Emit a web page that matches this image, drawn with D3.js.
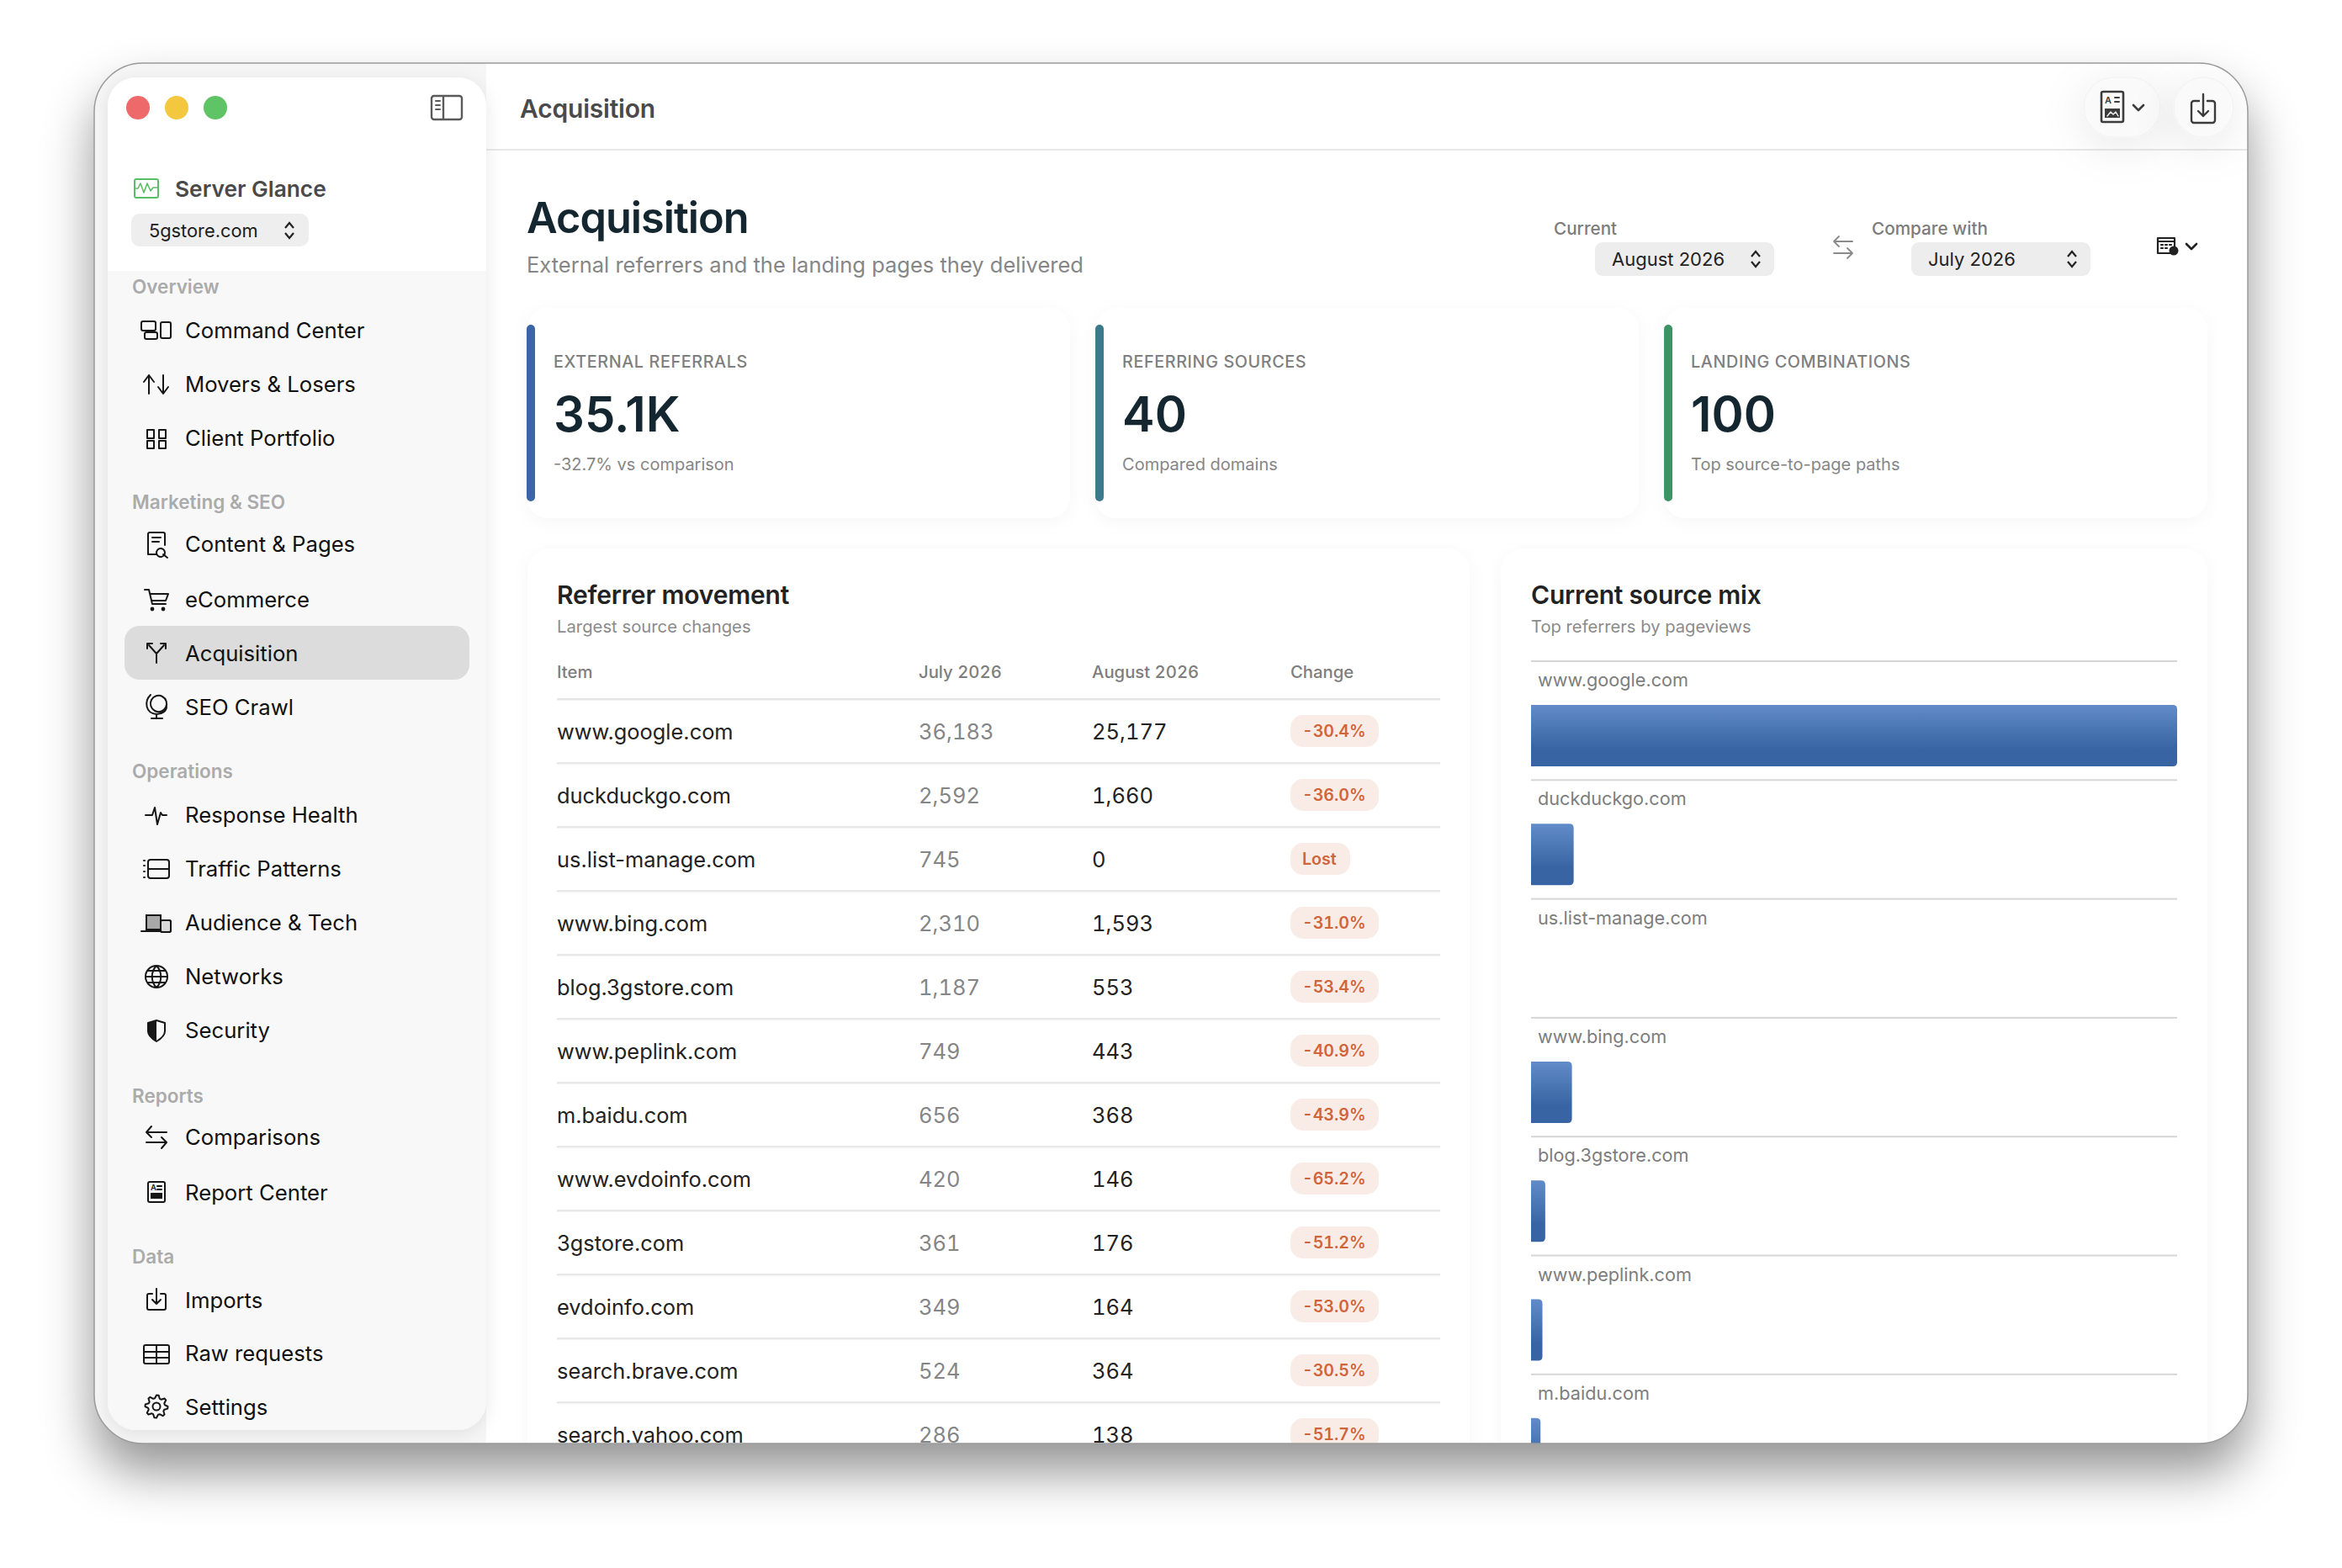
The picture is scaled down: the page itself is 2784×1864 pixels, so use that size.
<!DOCTYPE html>
<html>
<head>
<meta charset="utf-8">
<title>Acquisition</title>
<script src="https://cdn.jsdelivr.net/npm/d3@7"></script>
<style>
  html, body { margin: 0; padding: 0; background: #fff; }
  svg { display: block; }
  text { font-family: Inter, "Noto Sans", sans-serif; }
  .num { font-variant-numeric: tabular-nums; font-feature-settings: "tnum" 1; }
</style>
</head>
<body>
<div id="chart"></div>
<script>
// table data
const referrers = ['www.google.com', 'duckduckgo.com', 'us.list-manage.com', 'www.bing.com', 'blog.3gstore.com', 'www.peplink.com', 'm.baidu.com', 'www.evdoinfo.com', '3gstore.com', 'evdoinfo.com', 'search.brave.com', 'search.yahoo.com'];
const julyValues = [36183, 2592, 745, 2310, 1187, 749, 656, 420, 361, 349, 524, 286];
const augustValues = [25177, 1660, 0, 1593, 553, 443, 368, 146, 176, 164, 364, 138];
const changeLabels = ['-30.4%', '-36.0%', 'Lost', '-31.0%', '-53.4%', '-40.9%', '-43.9%', '-65.2%', '-51.2%', '-53.0%', '-30.5%', '-51.7%'];
const tableColumns = ['Item', 'July 2026', 'August 2026', 'Change'];

// source mix bars
const mixSources = ['www.google.com', 'duckduckgo.com', 'us.list-manage.com', 'www.bing.com', 'blog.3gstore.com', 'www.peplink.com', 'm.baidu.com'];
const mixValues = [25177, 1660, 0, 1593, 553, 443, 368];

// summary cards
const cardLabels = ['EXTERNAL REFERRALS', 'REFERRING SOURCES', 'LANDING COMBINATIONS'];
const cardValues = ['35.1K', '40', '100'];
const cardNotes = ['-32.7% vs comparison', 'Compared domains', 'Top source-to-page paths'];

// sidebar
const navHeadings = ['Overview', 'Marketing & SEO', 'Operations', 'Reports', 'Data'];
const navItems = ['Command Center', 'Movers & Losers', 'Client Portfolio', 'Content & Pages', 'eCommerce', 'Acquisition', 'SEO Crawl', 'Response Health', 'Traffic Patterns', 'Audience & Tech', 'Networks', 'Security', 'Comparisons', 'Report Center', 'Imports', 'Raw requests', 'Settings'];

const w = 2784, h = 1864;
const ink = '#14262f', grey = '#868686', dark = '#222';
const fmt = d3.format(',');

const svg = d3.select('#chart').append('svg').attr('width', w).attr('height', h);
const defs = svg.append('defs');

function shadow(id, dy, blur, alpha, pad) {
  let f = defs.append('filter').attr('id', id).
  attr('x', -pad + '%').attr('y', -pad + '%').attr('width', 100 + 2 * pad + '%').attr('height', 100 + 2 * pad + '%');
  f.append('feDropShadow').attr('dx', 0).attr('dy', dy).attr('stdDeviation', blur).
  attr('flood-color', '#000').attr('flood-opacity', alpha);
}
shadow('winShadow', 34, 30, 0.42, 20);
shadow('sideShadow', 4, 10, 0.09, 20);
shadow('cardShadow', 4, 10, 0.035, 20);
shadow('btnShadow', 10, 26, 0.09, 150);

let grad = defs.append('linearGradient').attr('id', 'barFill').
attr('x1', 0).attr('y1', 0).attr('x2', 0).attr('y2', 1);
grad.append('stop').attr('offset', '0%').attr('stop-color', '#618cc9');
grad.append('stop').attr('offset', '72%').attr('stop-color', '#3964a3');
grad.append('stop').attr('offset', '100%').attr('stop-color', '#3964a3');

defs.append('clipPath').attr('id', 'winClip').append('rect').
attr('x', 112).attr('y', 75).attr('width', 2560).attr('height', 1641).attr('rx', 58);

function label(g, x, y, str, size, weight, color, spacing) {
  return g.append('text').attr('x', x).attr('y', y).text(str).
  attr('font-size', size).attr('font-weight', weight).attr('fill', color).
  attr('letter-spacing', spacing || 0);
}

// window
svg.append('rect').attr('x', 112).attr('y', 75).attr('width', 2560).attr('height', 1641).attr('rx', 58).
attr('fill', '#fff').attr('filter', 'url(#winShadow)');

const win = svg.append('g').attr('clip-path', 'url(#winClip)');
win.append('rect').attr('x', 112).attr('y', 75).attr('width', 466).attr('height', 1641).attr('fill', '#f6f6f6');

// main area
const main = win.append('g');

label(main, 618, 140, 'Acquisition', 30, 600, '#4a4a4a', -0.2);
main.append('rect').attr('x', 578).attr('y', 177).attr('width', 2100).attr('height', 2).attr('fill', '#e8e8e8');

const topButtons = [[2477, 91], [2584, 71]];
main.selectAll('.topBtn').data(topButtons).enter().append('rect').
attr('class', 'topBtn').attr('x', d => d[0]).attr('y', 92).attr('width', d => d[1]).attr('height', 71).attr('rx', 35).
attr('fill', '#fafafa').attr('stroke', '#f3f3f3').attr('stroke-width', 1.5).attr('filter', 'url(#btnShadow)');

label(main, 626, 277, 'Acquisition', 50.5, 600, ink, -1);
label(main, 626, 324, 'External referrers and the landing pages they delivered', 25.5, 400, grey);

// period pickers
function stepper(g, cx, cy) {
  g.append('path').attr('d', `M${cx - 5} ${cy - 3}L${cx} ${cy - 9}L${cx + 5} ${cy - 3}M${cx - 5} ${cy + 3}L${cx} ${cy + 9}L${cx + 5} ${cy + 3}`).
  attr('fill', 'none').attr('stroke', '#222').attr('stroke-width', 2.2);
}
const pickers = [
  { head: 'Current', hx: 1847, bx: 1896, value: 'August 2026' },
  { head: 'Compare with', hx: 2225, bx: 2272, value: 'July 2026' }
];
pickers.forEach(p => {
  label(main, p.hx, 278.5, p.head, 20.7, 500, '#7c7c7c');
  main.append('rect').attr('x', p.bx).attr('y', 288).attr('width', 213).attr('height', 40).attr('rx', 9).attr('fill', '#ededed');
  label(main, p.bx + 20, 316, p.value, 22, 400, dark);
  stepper(main, p.bx + 191, 308);
});

function icon(g, cx, cy, d, color, sw) {
  return g.append('path').attr('transform', `translate(${cx},${cy})`).attr('d', d).
  attr('fill', 'none').attr('stroke', color).attr('stroke-width', sw || 2).
  attr('stroke-linecap', 'round').attr('stroke-linejoin', 'round');
}

// top right and picker icons
icon(main, 2191, 294, 'M11 -7H-11M-5 -13L-11 -7L-5 -1M-11 7H11M5 1L11 7L5 13', '#8a8a8a', 1.8);
icon(main, 2511, 127, 'M-11 -18H11A2 2 0 0 1 13 -16V16A2 2 0 0 1 11 18H-11A2 2 0 0 1 -13 16V-16A2 2 0 0 1 -11 -18Z', '#3c3c3c', 2.6);
label(main, 2502, 123, 'A', 11, 600, '#3c3c3c');
icon(main, 2511, 127, 'M3 -11H8M3 -6H8', '#3c3c3c', 2);
main.append('rect').attr('x', 2502).attr('y', 129).attr('width', 18).attr('height', 11).attr('fill', '#3c3c3c');
icon(main, 2511, 127, 'M-6 11L-2 6L1 9L4 6L7 11', '#fafafa', 1.4);
icon(main, 2542, 128, 'M-6 -3L0 3L6 -3', '#3c3c3c', 2.6);
icon(main, 2619, 130, 'M-5 -10H-11A3 3 0 0 0 -14 -7V13A3 3 0 0 0 -11 16H11A3 3 0 0 0 14 13V-7A3 3 0 0 0 11 -10H5M0 -18V8M-6 2L0 8L6 2', '#3c3c3c', 2.4);
icon(main, 2575, 292, 'M-10 -9H10V9H-10ZM-10 -5H10M-6 -1H-4M-1 -1H1M4 -1H6M-6 3H-4M-1 3H1', '#222', 2.2);
main.append('circle').attr('cx', 2584).attr('cy', 298).attr('r', 5.5).attr('fill', '#222');
icon(main, 2605, 293, 'M-6 -3L0 3L6 -3', '#222', 2.6);

// cards
const cardX = d3.scaleBand().domain(cardLabels).range([626, 2624]).paddingInner(0.0445);
const cardColors = ['#3b66a6', '#3b7a8a', '#3c9464'];
const cards = main.selectAll('.card').data(cardLabels).enter().append('g').attr('class', 'card').
attr('transform', d => `translate(${cardX(d)},366)`);
cards.append('rect').attr('width', cardX.bandwidth()).attr('height', 250).attr('rx', 26).attr('fill', '#fff').attr('filter', 'url(#cardShadow)');
cards.append('rect').attr('y', 20).attr('width', 10).attr('height', 210).attr('rx', 5).attr('fill', (d, i) => cardColors[i]);
cards.append('text').attr('x', 32).attr('y', 71).text(d => d).attr('font-size', 19.8).attr('font-weight', 500).attr('fill', '#7f7f7f').attr('letter-spacing', 0.6);
cards.append('text').attr('x', 32).attr('y', 147).text((d, i) => cardValues[i]).attr('font-size', 58).attr('font-weight', 600).attr('fill', ink);
cards.append('text').attr('x', 32).attr('y', 193).text((d, i) => cardNotes[i]).attr('font-size', 20).attr('fill', grey);

// panels
main.append('rect').attr('x', 627).attr('y', 652).attr('width', 1120).attr('height', 1200).attr('rx', 28).attr('fill', '#fff').attr('filter', 'url(#cardShadow)');
main.append('rect').attr('x', 1784).attr('y', 652).attr('width', 840).attr('height', 1200).attr('rx', 28).attr('fill', '#fff').attr('filter', 'url(#cardShadow)');

label(main, 662, 718, 'Referrer movement', 30, 600, dark, -0.2);
label(main, 662, 752, 'Largest source changes', 20.3, 400, '#8b8b8b');
label(main, 1820, 718, 'Current source mix', 30, 600, dark, -0.2);
label(main, 1820, 752, 'Top referrers by pageviews', 20.2, 400, '#8b8b8b');

// table
const colX = d3.scaleOrdinal().domain(tableColumns).range([662, 1092, 1298, 1534]);
main.selectAll('.colHead').data(tableColumns).enter().append('text').attr('class', 'colHead num').
attr('x', d => colX(d)).attr('y', 806).text(d => d).
attr('font-size', 20.3).attr('font-weight', 500).attr('fill', '#7e7e7e');

const rowY = d3.scaleBand().domain(referrers).range([831, 831 + 76 * referrers.length]);
main.append('rect').attr('x', 662).attr('y', 830).attr('width', 1050).attr('height', 2.5).attr('fill', '#e6e6e6');
const rows = main.selectAll('.row').data(referrers).enter().append('g').attr('class', 'row').
attr('transform', d => `translate(0,${rowY(d)})`);
rows.append('rect').attr('x', 662).attr('y', rowY.bandwidth() - 1).attr('width', 1050).attr('height', 2.5).attr('fill', '#e8e8e8');
rows.append('text').attr('x', colX('Item')).attr('y', 48).text(d => d).attr('font-size', 25.4).attr('fill', dark);
rows.append('text').attr('class', 'num').attr('x', colX('July 2026')).attr('y', 48).text((d, i) => fmt(julyValues[i])).attr('font-size', 25.5).attr('fill', '#858585');
rows.append('text').attr('class', 'num').attr('x', colX('August 2026')).attr('y', 48).text((d, i) => fmt(augustValues[i])).attr('font-size', 25.5).attr('fill', dark);
rows.append('rect').attr('x', colX('Change')).attr('y', 19).attr('height', 38).attr('rx', 15).
attr('width', (d, i) => changeLabels[i] === 'Lost' ? 71 : 105).attr('fill', '#f9ece6');
rows.append('text').attr('class', 'num').attr('x', colX('Change') + 14).attr('y', 45).text((d, i) => changeLabels[i]).
attr('font-size', 19.6).attr('font-weight', 600).attr('fill', '#d0643a');

// source mix
const mixY = d3.scaleBand().domain(mixSources).range([786, 786 + 141.3 * mixSources.length]);
const mixX = d3.scaleLinear().domain([0, d3.max(mixValues)]).range([0, 768]);
const mix = main.selectAll('.mix').data(mixSources).enter().append('g').attr('class', 'mix').
attr('transform', d => `translate(1820,${mixY(d)})`);
mix.append('rect').attr('x', 0).attr('y', -1).attr('width', 768).attr('height', 2).attr('fill', '#d6d6d6');
mix.append('text').attr('x', 8).attr('y', 30).text(d => d).attr('font-size', 21.7).attr('fill', '#7d7d7d');
mix.append('path').attr('fill', 'url(#barFill)').
attr('d', (d, i) => {
  let bw = mixX(mixValues[i]);
  if (bw === 0) return '';
  let r = Math.min(5, bw);
  return `M0 52H${bw - r}Q${bw} 52 ${bw} ${52 + r}V${125 - r}Q${bw} 125 ${bw - r} 125H0Z`;
});

// sidebar
const side = win.append('g');
side.append('rect').attr('x', 128).attr('y', 92).attr('width', 450).attr('height', 1608).attr('rx', 34).
attr('fill', '#f8f8f8').attr('filter', 'url(#sideShadow)');
side.append('path').attr('d', 'M128 322V126A34 34 0 0 1 162 92H544A34 34 0 0 1 578 126V322Z').attr('fill', '#fff');

const lights = ['#ee6a6a', '#f3c83f', '#5fc466'];
side.selectAll('.light').data(lights).enter().append('circle').attr('class', 'light').
attr('cx', (d, i) => 164 + i * 46).attr('cy', 128).attr('r', 14).attr('fill', d => d);

icon(side, 531, 128, 'M-15 -14H15A3 3 0 0 1 18 -11V11A3 3 0 0 1 15 14H-15A3 3 0 0 1 -18 11V-11A3 3 0 0 1 -15 -14ZM-4 -14V14', '#5a5a5a', 2.4);
icon(side, 531, 128, 'M-13 -8H-8M-13 -3H-8M-13 2H-8', '#5a5a5a', 2);

icon(side, 174, 224, 'M-12 -11H12A2 2 0 0 1 14 -9V9A2 2 0 0 1 12 11H-12A2 2 0 0 1 -14 9V-9A2 2 0 0 1 -12 -11Z', '#5cbd68', 2);
icon(side, 174, 224, 'M-14 0H-10L-7 -6L-3 5L1 -6L5 3L8 -1H14', '#5cbd68', 1.6);
label(side, 208, 233.5, 'Server Glance', 26.3, 600, '#4a4a4a');

side.append('rect').attr('x', 156).attr('y', 254).attr('width', 211).attr('height', 39).attr('rx', 10).attr('fill', '#eeeeee');
label(side, 177, 282, '5gstore.com', 21.8, 400, '#1c1c1c');
stepper(side, 344, 274);

side.append('rect').attr('x', 148).attr('y', 744).attr('width', 410).attr('height', 64).attr('rx', 18).attr('fill', '#dcdcdc');

const headingBase = [349, 605, 925, 1311, 1502];
side.selectAll('.navHead').data(navHeadings).enter().append('text').attr('class', 'navHead').
attr('x', 157).attr('y', (d, i) => headingBase[i]).text(d => d).
attr('font-size', 22.5).attr('font-weight', 600).attr('fill', '#ababab');

const itemBase = [402, 466, 530, 656, 722, 786, 849.5, 978, 1042, 1106, 1170, 1234, 1361, 1427, 1555, 1618, 1682];
side.selectAll('.navItem').data(navItems).enter().append('text').attr('class', 'navItem').
attr('x', 220).attr('y', (d, i) => itemBase[i]).text(d => d).
attr('font-size', 25.7).attr('font-weight', 400).attr('fill', '#111');

// sidebar icons, drawn around a local origin
const gearPath = d3.lineRadial().curve(d3.curveLinearClosed)(d3.range(32).map(i => [i * Math.PI / 16, [13.5, 13.5, 10, 10][i % 4]]));
const navIcons = {
  'Command Center': [186, 392, 'M-16 -10H-3A2 2 0 0 1 -1 -8V-1A2 2 0 0 1 -3 1H-16A2 2 0 0 1 -18 -1V-8A2 2 0 0 1 -16 -10ZM-12 3H-1A2 2 0 0 1 1 5V9A2 2 0 0 1 -1 11H-12A2 2 0 0 1 -14 9V5A2 2 0 0 1 -12 3ZM7 -9H15A2 2 0 0 1 17 -7V8A2 2 0 0 1 15 10H7A2 2 0 0 1 5 8V-7A2 2 0 0 1 7 -9Z'],
  'Movers & Losers': [186, 457, 'M-9 11V-11M-15 -3L-9 -11L-3 -3M8 -11V11M2 3L8 11L14 3'],
  'Client Portfolio': [186, 522, 'M-11 -11H-3V-1H-11ZM3 -11H11V-1H3ZM-11 2H-3V11H-11ZM3 2H11V11H3Z'],
  'Content & Pages': [186, 646, 'M-7 13H-10V-11A2 2 0 0 1 -8 -13H8A2 2 0 0 1 10 -11V2M-5 -7H5M-5 -2H3M-7 13H0M9 14A5 5 0 1 1 1 8A5 5 0 0 1 9 14ZM8 13L13 17'],
  'eCommerce': [186, 713, 'M-14 -12H-9L-5 5H11M-8 -7H14L11 1H-6'],
  'Acquisition': [186, 776, 'M0 12V1M0 1L-9 -9M0 1L9 -9M-11 -5V-11H-5M11 -5V-11H5'],
  'SEO Crawl': [186, 840, 'M-7 -14C-15 -6 -13 8 0 9C7 9 12 5 12 0M0 9V14M-6 14H7M11 1A9 9 0 1 1 -6 -8A9 9 0 0 1 11 1Z'],
  'Response Health': [186, 969, 'M-13 0H-5L-2 -9L1 11L5 -3L7 0H12'],
  'Traffic Patterns': [186, 1033, 'M-7 -11H12A3 3 0 0 1 15 -8V8A3 3 0 0 1 12 11H-7A3 3 0 0 1 -10 8V-8A3 3 0 0 1 -7 -11ZM-10 0H15M-15 -10H-14M-15 -4H-14M-15 3H-14M-15 10H-14'],
  'Audience & Tech': [186, 1097, 'M-12 -9H5V8H-12ZM-18 10H5M7 -3H15A2 2 0 0 1 17 -1V9A2 2 0 0 1 15 11H7A2 2 0 0 1 5 9V-1A2 2 0 0 1 7 -3Z'],
  'Networks': [186, 1161, 'M13 0A13 13 0 1 1 -13 0A13 13 0 0 1 13 0ZM-13 0H13M-11 -7H11M-11 7H11M0 -13C-7 -6 -7 6 0 13C7 6 7 -6 0 -13Z'],
  'Security': [186, 1225, 'M0 -12L10 -9V1C10 6 5 10 0 13C-5 10 -10 6 -10 1V-9Z'],
  'Comparisons': [186, 1352, 'M12 -6H-12M-6 -13L-12 -6L-6 0M-12 6H12M6 0L12 6L6 13'],
  'Report Center': [186, 1417, 'M-8 -12H8A2 2 0 0 1 10 -10V10A2 2 0 0 1 8 12H-8A2 2 0 0 1 -10 10V-10A2 2 0 0 1 -8 -12ZM1 -7H6M1 -3H6'],
  'Imports': [186, 1545, 'M-5 -7H-9A2 2 0 0 0 -11 -5V10A2 2 0 0 0 -9 12H9A2 2 0 0 0 11 10V-5A2 2 0 0 0 9 -7H5M0 -13V5M-5 0L0 5L5 0'],
  'Raw requests': [186, 1610, 'M-13 -11H13A2 2 0 0 1 15 -9V9A2 2 0 0 1 13 11H-13A2 2 0 0 1 -15 9V-9A2 2 0 0 1 -13 -11ZM-15 -3H15M-15 4H15M0 -11V11'],
  'Settings': [186, 1672, gearPath + 'M4.5 0A4.5 4.5 0 1 1 -4.5 0A4.5 4.5 0 0 1 4.5 0Z']
};
navItems.forEach(n => icon(side, navIcons[n][0], navIcons[n][1], navIcons[n][2], '#161616', 2));

// filled bits of the icons
side.append('circle').attr('cx', 181).attr('cy', 724).attr('r', 2.4).attr('fill', '#161616');
side.append('circle').attr('cx', 194).attr('cy', 724).attr('r', 2.4).attr('fill', '#161616');
side.append('path').attr('transform', 'translate(186,1225)').attr('d', 'M0 -12L-10 -9V1C-10 6 -5 10 0 13Z').attr('fill', '#161616');
side.append('rect').attr('x', 174).attr('y', 1088).attr('width', 17).attr('height', 17).attr('fill', '#a8a8a8').attr('stroke', '#161616').attr('stroke-width', 2);
side.append('rect').attr('x', 191).attr('y', 1094).attr('width', 12).attr('height', 14).attr('rx', 2).attr('fill', '#d8d8d8').attr('stroke', '#161616').attr('stroke-width', 2);
label(side, 179, 1415, 'A', 9.5, 600, '#161616');
side.append('rect').attr('x', 179).attr('y', 1418).attr('width', 14).attr('height', 7).attr('fill', '#161616');

// window hairline
svg.append('rect').attr('x', 112).attr('y', 75).attr('width', 2560).attr('height', 1641).attr('rx', 58).
attr('fill', 'none').attr('stroke', '#9a9a9a').attr('stroke-width', 1.5);
</script>
</body>
</html>
